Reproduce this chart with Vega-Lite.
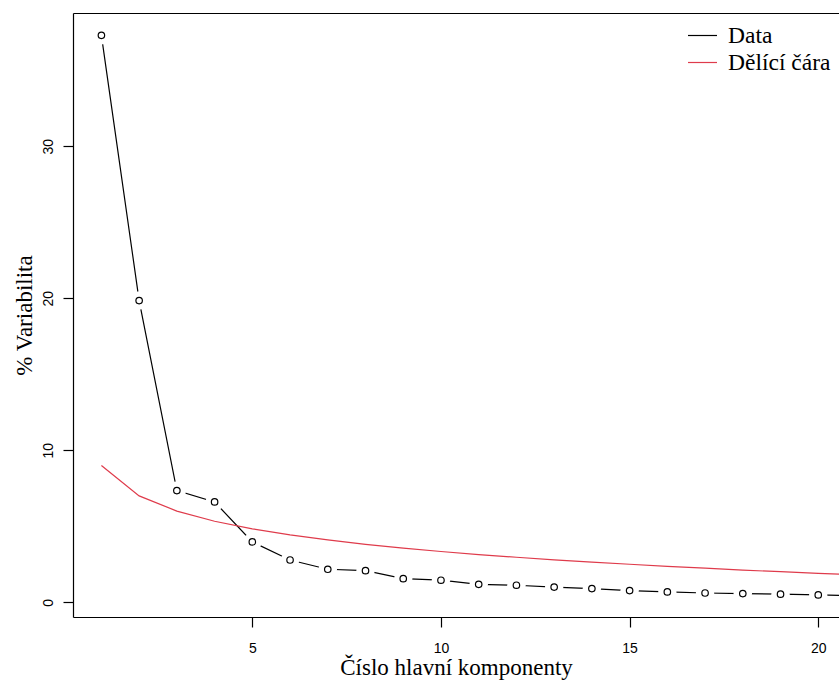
{
  "$schema": "https://vega.github.io/schema/vega-lite/v6.json",
  "width": 766,
  "height": 604,
  "autosize": {"type": "none"},
  "padding": {"left": 73, "top": 13, "right": 0, "bottom": 67},
  "background": "white",
  "config": {
    "view": {"stroke": null},
    "axis": {
      "grid": false,
      "domainColor": "black",
      "tickColor": "black",
      "domainWidth": 1.2,
      "tickWidth": 1.2,
      "labelFont": "Liberation Sans",
      "labelFontSize": 14,
      "labelColor": "black",
      "titleFont": "Liberation Serif",
      "titleFontSize": 23,
      "titleFontWeight": "normal",
      "titleColor": "black"
    }
  },
  "data": {
    "values": [
      {"k": 1, "series": "Data", "value": 37.3},
      {"k": 2, "series": "Data", "value": 19.85},
      {"k": 3, "series": "Data", "value": 7.35},
      {"k": 4, "series": "Data", "value": 6.6},
      {"k": 5, "series": "Data", "value": 3.97},
      {"k": 6, "series": "Data", "value": 2.78},
      {"k": 7, "series": "Data", "value": 2.17},
      {"k": 8, "series": "Data", "value": 2.08},
      {"k": 9, "series": "Data", "value": 1.55},
      {"k": 10, "series": "Data", "value": 1.45},
      {"k": 11, "series": "Data", "value": 1.18},
      {"k": 12, "series": "Data", "value": 1.12},
      {"k": 13, "series": "Data", "value": 1.0},
      {"k": 14, "series": "Data", "value": 0.9},
      {"k": 15, "series": "Data", "value": 0.77},
      {"k": 16, "series": "Data", "value": 0.68},
      {"k": 17, "series": "Data", "value": 0.61},
      {"k": 18, "series": "Data", "value": 0.57},
      {"k": 19, "series": "Data", "value": 0.53},
      {"k": 20, "series": "Data", "value": 0.48},
      {"k": 21, "series": "Data", "value": 0.44},
      {"k": 1, "series": "Dělící čára", "value": 9.0},
      {"k": 2, "series": "Dělící čára", "value": 7.0},
      {"k": 3, "series": "Dělící čára", "value": 6.0},
      {"k": 4, "series": "Dělící čára", "value": 5.33},
      {"k": 5, "series": "Dělící čára", "value": 4.83},
      {"k": 6, "series": "Dělící čára", "value": 4.43},
      {"k": 7, "series": "Dělící čára", "value": 4.1},
      {"k": 8, "series": "Dělící čára", "value": 3.81},
      {"k": 9, "series": "Dělící čára", "value": 3.56},
      {"k": 10, "series": "Dělící čára", "value": 3.34},
      {"k": 11, "series": "Dělící čára", "value": 3.14},
      {"k": 12, "series": "Dělící čára", "value": 2.96},
      {"k": 13, "series": "Dělící čára", "value": 2.79},
      {"k": 14, "series": "Dělící čára", "value": 2.64},
      {"k": 15, "series": "Dělící čára", "value": 2.5},
      {"k": 16, "series": "Dělící čára", "value": 2.36},
      {"k": 17, "series": "Dělící čára", "value": 2.24},
      {"k": 18, "series": "Dělící čára", "value": 2.12},
      {"k": 19, "series": "Dělící čára", "value": 2.01},
      {"k": 20, "series": "Dělící čára", "value": 1.9},
      {"k": 21, "series": "Dělící čára", "value": 1.8}
    ]
  },
  "layer": [
    {
      "mark": {"type": "line", "strokeWidth": 1.2, "clip": true},
      "encoding": {
        "x": {
          "field": "k", "type": "quantitative",
          "scale": {"domain": [0.247, 20.55], "nice": false, "zero": false},
          "axis": {"orient": "bottom", "values": [5, 10, 15, 20], "tickSize": 10, "labelPadding": 14, "labelAngle": 0, "title": "Číslo hlavní komponenty", "titlePadding": 1}
        },
        "y": {
          "field": "value", "type": "quantitative",
          "scale": {"domain": [-0.97, 38.77], "nice": false, "zero": false},
          "axis": {"values": [0, 10, 20, 30], "tickSize": 10, "labelAngle": -90, "labelAlign": "center", "labelBaseline": "alphabetic", "labelPadding": 11, "title": "% Variabilita", "titlePadding": 5}
        },
        "color": {
          "field": "series", "type": "nominal",
          "scale": {"domain": ["Data", "Dělící čára"], "range": ["black", "#DF3B4B"]},
          "legend": {"orient": "none", "legendX": 614, "legendY": 7, "title": null, "symbolType": "stroke", "symbolSize": 841, "symbolStrokeWidth": 1.2, "labelFont": "Liberation Serif", "labelFontSize": 23.5, "labelColor": "black", "labelOffset": 10, "rowPadding": -3, "padding": 0, "labelLimit": 300}
        }
      }
    },
    {
      "transform": [{"filter": "datum.series === 'Data'"}],
      "mark": {"type": "point", "shape": "circle", "filled": true, "color": "white", "opacity": 1, "size": 340, "clip": true},
      "encoding": {
        "x": {"field": "k", "type": "quantitative", "axis": {"orient": "top", "labels": false, "ticks": false, "title": null, "domain": true}},
        "y": {"field": "value", "type": "quantitative"}
      }
    },
    {
      "transform": [{"filter": "datum.series === 'Data'"}],
      "mark": {"type": "point", "shape": "circle", "filled": false, "color": "black", "opacity": 1, "strokeWidth": 1.2, "size": 42, "clip": true},
      "encoding": {
        "x": {"field": "k", "type": "quantitative", "axis": null},
        "y": {"field": "value", "type": "quantitative"}
      }
    }
  ],
  "resolve": {"axis": {"x": "independent"}}
}
